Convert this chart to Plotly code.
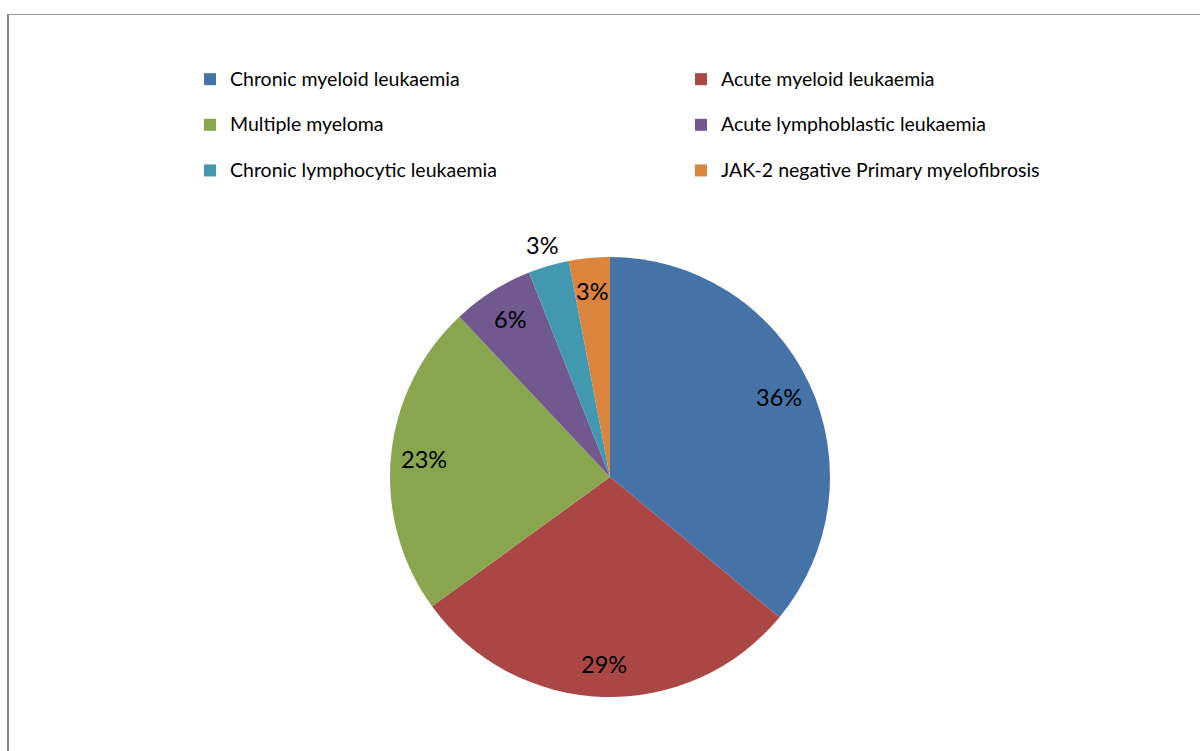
import math
import plotly.graph_objects as go

categories = [
    "Chronic myeloid leukaemia",
    "Acute myeloid leukaemia",
    "Multiple myeloma",
    "Acute lymphoblastic leukaemia",
    "Chronic lymphocytic leukaemia",
    "JAK-2 negative Primary myelofibrosis",
]
values = [36, 29, 23, 6, 3, 3]
colors = ["#4572A7", "#AA4643", "#89A54E", "#71588F", "#4198AF", "#DB843D"]
label_outside = [False, False, False, False, True, False]

W, H = 1200, 751
cx, cy, r = 610, 477, 220
FONT = "Lato"

legend_labels = [f"<span style='font-size:19.5px'>{c}</span><br> " for c in categories]

fig = go.Figure(
    go.Pie(
        labels=legend_labels,
        values=values,
        marker=dict(colors=colors, line=dict(width=0)),
        sort=False,
        direction="clockwise",
        rotation=0,
        textinfo="none",
        domain=dict(x=[(cx - r) / W, (cx + r) / W], y=[(H - cy - r) / H, (H - cy + r) / H]),
        hoverinfo="percent",
    )
)

# percentage labels placed at each slice's mid-angle (computed from the values)
total = sum(values)
cum = 0
for v, out in zip(values, label_outside):
    mid = (cum + v / 2) / total * 2 * math.pi
    cum += v
    f = 1.1 if out else 0.85
    px = cx + f * r * math.sin(mid)
    py = cy - f * r * math.cos(mid)
    fig.add_annotation(
        x=px / W, y=1 - py / H, xref="paper", yref="paper",
        text=f"{round(v / total * 100)}%", showarrow=False,
        font=dict(family=FONT, size=23.5, color="black"),
        xanchor="center", yanchor="middle",
    )

fig.add_shape(type="line", xref="paper", yref="paper", x0=8 / W, x1=8 / W, y0=0, y1=1 - 14 / H,
              line=dict(color="#878787", width=2))
fig.add_shape(type="line", xref="paper", yref="paper", x0=8 / W, x1=1, y0=1 - 14.5 / H, y1=1 - 14.5 / H,
              line=dict(color="#9a9a9a", width=1))

fig.update_layout(
    width=W,
    height=H,
    autosize=False,
    margin=dict(l=0, r=0, t=0, b=0),
    paper_bgcolor="white",
    plot_bgcolor="white",
    showlegend=True,
    legend=dict(
        orientation="h",
        x=190 / W,
        y=1 - 62 / H,
        xanchor="left",
        yanchor="top",
        entrywidthmode="pixels",
        entrywidth=446,
        valign="top",
        font=dict(family=FONT, size=16.4, color="black"),
        traceorder="normal",
        itemclick=False,
    ),
    font=dict(family=FONT),
)

fig.write_html(
    "out.html",
    default_width="1200px",
    default_height="751px",
    config={"responsive": False},
    post_script="document.body.style.margin='0';document.body.style.overflow='hidden';",
)
